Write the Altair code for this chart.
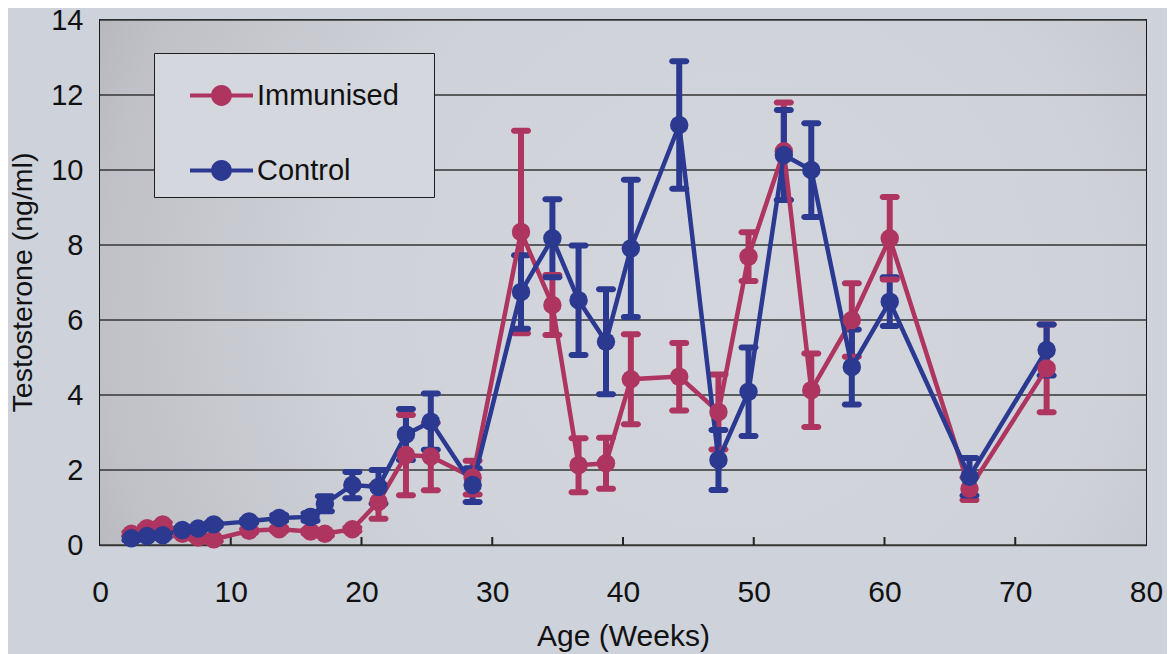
import altair as alt
import pandas as pd

# ---- data ----
weeks = [2.4, 3.6, 4.8, 6.3, 7.5, 8.7, 11.4, 13.7, 16.1, 17.2, 19.3, 21.3, 23.4, 25.3,
         28.5, 32.2, 34.6, 36.6, 38.7, 40.6, 44.3, 47.3, 49.6, 52.3, 54.4, 57.5, 60.4,
         66.5, 72.4]
immunised = [0.30, 0.45, 0.55, 0.30, 0.20, 0.15, 0.38, 0.42, 0.36, 0.30, 0.42, 1.15, 2.40,
             2.36, 1.80, 8.35, 6.40, 2.13, 2.18, 4.42, 4.49, 3.55, 7.69, 10.50, 4.13, 6.00,
             8.18, 1.50, 4.71]
immunised_err = [0.05, 0.05, 0.05, 0.05, 0.05, 0.05, 0.05, 0.05, 0.05, 0.05, 0.05, 0.45,
                 1.07, 0.90, 0.45, 2.70, 0.80, 0.72, 0.68, 1.20, 0.90, 1.00, 0.65, 1.30,
                 0.98, 0.98, 1.10, 0.30, 1.17]
control = [0.18, 0.24, 0.26, 0.40, 0.44, 0.55, 0.63, 0.72, 0.75, 1.10, 1.60, 1.55, 2.95,
           3.29, 1.60, 6.75, 8.18, 6.53, 5.42, 7.91, 11.20, 2.27, 4.09, 10.40, 10.00, 4.75,
           6.49, 1.82, 5.20]
control_err = [0.05, 0.05, 0.05, 0.05, 0.05, 0.05, 0.05, 0.08, 0.10, 0.20, 0.35, 0.45, 0.68,
               0.75, 0.45, 0.98, 1.04, 1.46, 1.40, 1.83, 1.70, 0.80, 1.18, 1.20, 1.25, 1.00,
               0.65, 0.50, 0.68]
groups = ["Immunised", "Control"]
colors = ["#ad3560", "#2b3990"]
x_ticks = [0, 10, 20, 30, 40, 50, 60, 70, 80]
y_ticks = [0, 2, 4, 6, 8, 10, 12, 14]

rows = []
for g, vals, errs in [("Immunised", immunised, immunised_err), ("Control", control, control_err)]:
    for w, v, e in zip(weeks, vals, errs):
        rows.append({"week": w, "value": v, "lo": v - e, "hi": v + e, "group": g})
df = pd.DataFrame(rows)

W, H = 1046, 525
FONT = "Liberation Sans"
NARROW = "Liberation Sans Narrow, Arial Narrow, Liberation Sans"
PAD_TAIL = "\u00a0\u00a0\u00a0\u200b"   # keeps the legend box as wide as the reference

xscale = alt.Scale(domain=[0, 80], nice=False)
yscale = alt.Scale(domain=[0, 14], nice=False)

xaxis = alt.Axis(values=x_ticks, grid=False, ticks=False, domain=False,
                 labelFont=NARROW, labelFontSize=30, labelColor="#111",
                 labelPadding=32, labelFlush=False, labelOverlap=False,
                 title="Age (Weeks)", titleFont=NARROW, titleFontSize=30,
                 titleFontWeight="normal", titleColor="#111", titleY=91,
                 titleBaseline="middle")
yaxis = alt.Axis(values=y_ticks, grid=True, gridColor="#353535", gridWidth=1.6,
                 ticks=False, domain=False, labelFont=FONT, labelFontSize=29,
                 labelColor="#111", labelPadding=17,
                 title="Testosterone (ng/ml)", titleFont=FONT, titleFontSize=28.5,
                 titleFontWeight="normal", titleColor="#111", titleX=-78, titleY=262,
                 titleAlign="center", titleBaseline="middle")

base = alt.Chart(df)

bg = alt.Chart(alt.Data(values=[{"a": 1}])).mark_rect(
    fill={"gradient": "radial", "x1": 0.6, "y1": 0.52, "r1": 0.0,
          "x2": 0.6, "y2": 0.52, "r2": 0.8,
          "stops": [{"offset": 0.0, "color": "#d3d6dc"},
                    {"offset": 0.45, "color": "#cfd2d8"},
                    {"offset": 0.75, "color": "#bfc1c7"},
                    {"offset": 1.0, "color": "#a3a4a9"}]}
).encode(x=alt.value(0), x2=alt.value(W), y=alt.value(0), y2=alt.value(H))

grid_layer = alt.Chart(pd.DataFrame({"t": y_ticks})).mark_rule(
    color="#353535", strokeWidth=1.6
).encode(y=alt.Y("t:Q", scale=yscale, axis=yaxis), x=alt.value(0), x2=alt.value(W))

tick_layer = alt.Chart(pd.DataFrame({"t": x_ticks[1:-1]})).mark_rule(
    color="#222", strokeWidth=2
).encode(x=alt.X("t:Q", scale=xscale, axis=xaxis), y=alt.value(H), y2=alt.value(H - 8))

# legend symbol: a short line with a dot in the middle (filled shapes only)
legend_path = ("M-1,-0.065H-0.3V0.065H-1Z "
               "M0.3,-0.065H1V0.065H0.3Z "
               "M-0.33,0A0.33,0.33,0,1,1,0.33,0A0.33,0.33,0,1,1,-0.33,0Z")

cscale = alt.Scale(domain=groups, range=colors)
legend = alt.Legend(title=None, orient="none", legendX=54, legendY=33, direction="vertical",
                    fillColor="#d4d7dd", strokeColor="#1e1e1e", padding=11,
                    symbolType=legend_path, symbolSize=3969, symbolStrokeWidth=0,
                    symbolOffset=25, labelOffset=4, rowPadding=28, labelLimit=400,
                    labelFont=FONT, labelFontSize=29, labelColor="#111",
                    labelExpr="datum.label + '" + PAD_TAIL + "'")
color_enc = alt.Color("group:N", scale=cscale, sort=groups, legend=legend)

err_bars = base.mark_rule(strokeWidth=6).encode(
    x=alt.X("week:Q", scale=xscale),
    y=alt.Y("lo:Q", scale=yscale),
    y2="hi:Q",
    color=color_enc,
)
caps_hi = base.mark_tick(orient="horizontal", size=20, thickness=6, cornerRadius=3,
                         opacity=1).encode(
    x=alt.X("week:Q", scale=xscale),
    y=alt.Y("hi:Q", scale=yscale),
    color=color_enc,
)
caps_lo = base.mark_tick(orient="horizontal", size=20, thickness=6, cornerRadius=3,
                         opacity=1).encode(
    x=alt.X("week:Q", scale=xscale),
    y=alt.Y("lo:Q", scale=yscale),
    color=color_enc,
)
lines = base.mark_line(strokeWidth=4.5).encode(
    x=alt.X("week:Q", scale=xscale),
    y=alt.Y("value:Q", scale=yscale),
    color=color_enc,
    order="week:Q",
    detail="group:N",
)
points = base.mark_point(filled=True, size=340, opacity=1).encode(
    x=alt.X("week:Q", scale=xscale),
    y=alt.Y("value:Q", scale=yscale),
    color=color_enc,
)

chart = alt.layer(bg, grid_layer, tick_layer, err_bars, caps_hi, caps_lo, lines, points).properties(
    width=W, height=H,
    autosize=alt.AutoSizeParams(type="none"),
    padding={"left": 92, "top": 12, "right": 21, "bottom": 109},
    background="#ced2da",
).configure_view(stroke="#1a1a1a", strokeWidth=2)

chart.save("out.html", embed_options={"renderer": "svg", "actions": False})
